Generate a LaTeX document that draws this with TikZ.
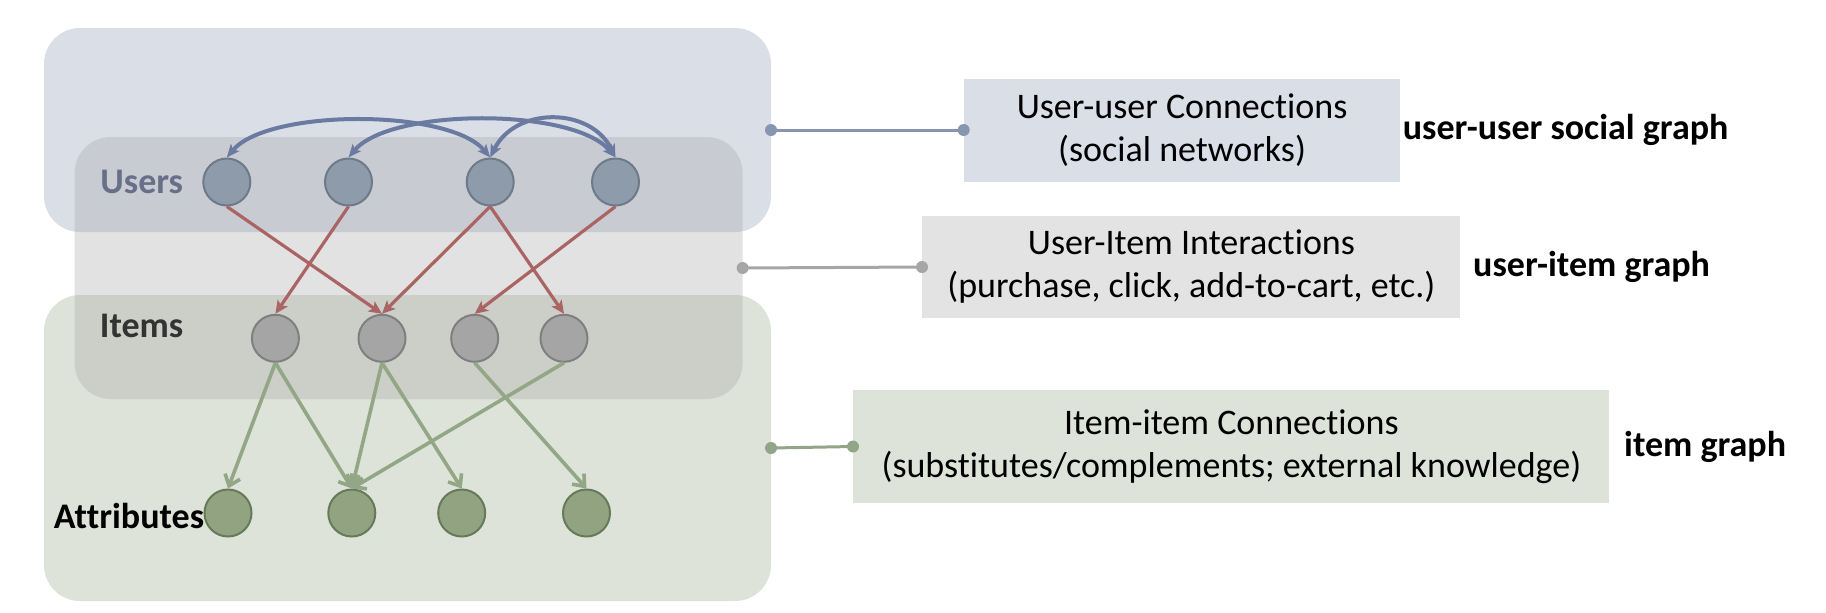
\documentclass[tikz,border=0pt]{standalone}
\usepackage{fontspec}
\setmainfont{Carlito}[Ligatures=NoCommon]
\usetikzlibrary{positioning,arrows.meta}

\definecolor{userbg}{HTML}{D9DEE7}
\definecolor{itembg}{HTML}{DDE3D8}
\definecolor{interbg}{HTML}{A6A6A6}
\definecolor{interbox}{HTML}{E3E3E3}
\definecolor{userfill}{HTML}{8E9BAA}
\definecolor{userline}{HTML}{6F7A88}
\definecolor{itemfill}{HTML}{A5A5A5}
\definecolor{itemline}{HTML}{7F7F7F}
\definecolor{attrfill}{HTML}{91A381}
\definecolor{attrline}{HTML}{667A5A}
\definecolor{uiedge}{HTML}{AA6464}
\definecolor{iaedge}{HTML}{93A686}
\definecolor{uuedge}{HTML}{6A7AA0}
\definecolor{uulink}{HTML}{8796B0}
\definecolor{iilink}{HTML}{92A588}
\definecolor{userlabel}{HTML}{686F88}

\tikzstyle{region} = [rectangle, rounded corners=18pt, inner sep=0pt, outer sep=0pt]
\tikzstyle{user} = [circle, draw=userline, fill=userfill, line width=1pt,
    minimum size=23.5pt, inner sep=0pt]
\tikzstyle{item} = [circle, draw=itemline, fill=itemfill, line width=1pt,
    minimum size=23.5pt, inner sep=0pt]
\tikzstyle{attr} = [circle, draw=attrline, fill=attrfill, line width=1pt,
    minimum size=23.5pt, inner sep=0pt]
\tikzstyle{infobox} = [rectangle, inner sep=0pt, align=center, anchor=west,
    font=\fontsize{18}{21.5}\selectfont]
\tikzstyle{graphlabel} = [inner sep=1pt, font=\fontsize{18}{21.5}\selectfont\bfseries]
\tikzstyle{layerlabel} = [inner sep=0pt, anchor=base west, font=\fontsize{18}{21.5}\selectfont\bfseries]
\tikzstyle{uiarrow} = [draw=uiedge, line width=1.6pt, -{Stealth[length=6.5pt,width=6pt,inset=1.5pt]}]
\tikzstyle{iaarrow} = [draw=iaedge, line width=1.8pt, -{Straight Barb[length=5pt,width=8pt]}]
\tikzstyle{uuarrow} = [draw=uuedge, line width=2pt,
    {Stealth[length=6.5pt,width=5.5pt,inset=1.5pt]}-{Stealth[length=6.5pt,width=5.5pt,inset=1.5pt]}]
\tikzstyle{link} = [line width=1.5pt]

\begin{document}
\begin{tikzpicture}[x=0.5pt,y=-0.5pt]
\useasboundingbox (0,0) rectangle (1826,612);

%------------ Regions ---------------------
\node[region, fill=userbg, minimum width=363.5pt, minimum height=102pt] (userreg) at (407.5,130) {};
\node[region, fill=itembg, minimum width=363.5pt, minimum height=153pt] (itemreg) at (407.5,448) {};
\node[region, fill=interbg, fill opacity=0.32, minimum width=334pt, minimum height=131pt] (interreg) at (408.6,268) {};

%------------ Layer labels ---------------------
\node[layerlabel, text=userlabel] (userlab) at (100,193) {Users};
\node[layerlabel, text=black!80] (itemlab) at (99.5,337) {Items};

%------------ Nodes ---------------------
\node[user] (u1) at (226.8,182) {};
\node[user] (u2) at (348.5,182) {};
\node[user] (u3) at (490.2,182) {};
\node[user] (u4) at (615.5,182) {};

\node[item] (i1) at (275.4,338.3) {};
\node[item] (i2) at (382,338.3) {};
\node[item] (i3) at (474.7,338.3) {};
\node[item] (i4) at (564,338.3) {};

\node[attr] (a1) at (228,513) {};
\node[attr] (a2) at (351.8,513) {};
\node[attr] (a3) at (461.7,513) {};
\node[attr] (a4) at (586.5,513) {};

\node[layerlabel, text=black] (attrlab) at (53.6,528) {Attributes};

%------------ Edges ---------------------
\draw[uuarrow] (u1.north) .. controls +(41,-49) and +(-41,-49) .. (u3.north);
\draw[uuarrow] (u2.north) .. controls +(42,-50) and +(-42,-50) .. (u4.north);
\draw[uuarrow] (u3.north) .. controls +(25,-51) and +(-25,-51) .. (u4.north);

\draw[uiarrow] (u1.south) -- (i2.north);
\draw[uiarrow] (u2.south) -- (i1.north);
\draw[uiarrow] (u3.south) -- (i2.north);
\draw[uiarrow] (u3.south) -- (i4.north);
\draw[uiarrow] (u4.south) -- (i3.north);

\draw[iaarrow] (i1.south) -- (a1.north);
\draw[iaarrow] (i1.south) -- (a2.north);
\draw[iaarrow] (i2.south) -- (a2.north);
\draw[iaarrow] (i2.south) -- (a3.north);
\draw[iaarrow] (i3.south) -- (a4.north);
\draw[iaarrow] (i4.south) -- (a2.north);

%------------ Description boxes ---------------------
\node[infobox, fill=userbg, minimum width=218pt, minimum height=51.5pt] (uubox) at (963.7,130)
{User-user Connections\\(social networks)};
\node[infobox, fill=interbox, minimum width=269pt, minimum height=51pt] (uibox) at (922,267)
{User-Item Interactions\\(purchase, click, add-to-cart, etc.)};
\node[infobox, fill=itembg, minimum width=378pt, minimum height=56.5pt] (iibox) at (853,446.5)
{Item-item Connections\\(substitutes/complements; external knowledge)};

\node[graphlabel, right=0pt of uubox] (uugraph) {user-user social graph};
\node[graphlabel, right=5pt of uibox] (uigraph) {user-item graph};
\node[graphlabel, right=6pt of iibox] (iigraph) {item graph};

%------------ Links ---------------------
\draw[link, uulink] (userreg.east) -- (uubox.west);
\fill[uulink] (userreg.east) circle (3pt) (uubox.west) circle (3pt);
\draw[link, interbg] (interreg.east) -- (uibox.west);
\fill[interbg] (interreg.east) circle (3pt) (uibox.west) circle (3pt);
\draw[link, iilink] (itemreg.east) -- (iibox.west);
\fill[iilink] (itemreg.east) circle (3pt) (iibox.west) circle (3pt);
\end{tikzpicture}
\end{document}
